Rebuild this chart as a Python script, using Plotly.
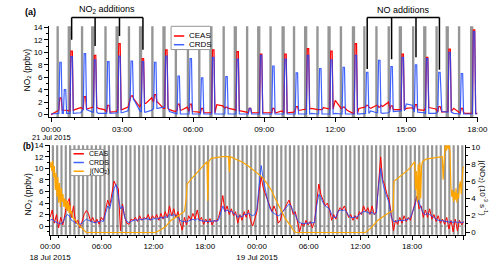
import numpy as np
import plotly.graph_objects as go

FONT = "Liberation Sans, Arial, sans-serif"
RED = "rgb(255,0,0)"
BLUE = "rgba(30,70,255,0.85)"
ORANGE = "rgb(255,165,0)"
GRAY = "rgb(150,150,150)"

# ---------------- Panel (a): 21 Jul 2015 (hours after 00:00) ----------------
a_xticks = [0, 3, 6, 9, 12, 15, 18]
a_xticktext = ["00:00", "03:00", "06:00", "09:00", "12:00", "15:00", "18:00"]
a_date_label = "21 Jul 2015"

a_base_step_h = 0.25
a_ceas_base = [0.0, 0.5, 0.7, 0.6, 0.8, 1.1, 0.9, 1.2,
               1.0, 0.8, 0.4, 0.5, 0.8, 1.2, 2.5, 1.2,
               1.8, 2.7, 2.0, 1.0, 0.8, 0.5, 0.7, 1.2,
               0.5, 0.4, 0.3, 0.3, 1.6, 1.4, 1.0, 0.8,
               0.6, 0.4, 0.3, 0.3, 0.3, 0.2, 0.3, 0.6,
               0.3, 0.4, 0.7, 0.9, 1.0, 0.8, 1.1, 0.9,
               2.3, 1.0, 0.7, 0.2, 1.0, 1.2, 1.0, 1.5,
               1.3, 2.0, 0.8, 0.8, 1.0, 1.1, 0.8, 0.7,
               1.1, 0.9, 0.4, 0.5, 1.0, 0.3, 0.2, 0.2,
               0.2]
a_crds_base = [0.1, 0.1, 0.2, 0.2, 0.2, 0.3, 0.8, 0.4,
               0.2, 0.2, 0.2, 0.2, 0.3, 0.6, 2.4, 0.6,
               0.4, 0.7, 1.0, 1.2, 0.5, 0.2, 0.1, 0.1,
               0.1, 0.1, 0.1, 0.1, 0.1, 0.1, 0.1, 0.1,
               0.1, 0.1, 0.1, 0.1, 0.1, 0.1, 0.1, 0.1,
               0.1, 0.1, 0.1, 0.1, 0.2, 0.1, 0.1, 0.1,
               0.2, 0.1, 0.1, 0.1, 0.1, 0.2, 0.6, 0.3,
               0.2, 0.3, 0.5, 0.6, 1.7, 1.5, 0.4, 0.3,
               0.2, 0.2, 0.5, 0.4, 0.2, 0.1, 0.1, 0.1,
               0.1]

# calibration / addition peaks
a_peak_t = [0.40, 0.59, 0.87, 1.43, 1.86, 2.42, 2.89, 3.41, 3.88, 4.40,
            4.87, 5.39, 5.90, 6.38, 6.85, 7.41, 7.88, 8.40, 8.87, 9.39,
            9.90, 10.38, 10.85, 11.37, 11.84, 12.36, 12.87, 13.35, 13.86, 14.38,
            14.85, 15.41, 15.88, 16.40, 16.83, 17.35, 17.86]
a_peak_crds = [8.4, 4.0, 9.3, 9.8, 8.8, 8.5, 9.4, 8.6, 8.5, 8.4,
               9.4, 6.2, 9.0, 5.9, 9.2, 6.1, 8.9, 1.0, 9.5, 7.8,
               8.9, 6.7, 9.5, 7.4, 8.8, 7.6, 9.5, 6.8, 8.7, 7.7,
               9.2, 8.0, 9.0, 6.8, 10.0, 6.6, 13.3]
a_peak_ceas = [2.7, 0.8, 10.2, 2.9, 9.5, 1.5, 11.4, 3.0, 9.0, 3.2,
               10.4, 1.7, 1.7, 1.0, 10.4, 1.2, 10.1, 1.0, 9.7, 1.0,
               9.7, 1.3, 10.6, 0.8, 10.2, 1.2, 11.4, 1.5, 1.2, 1.4,
               9.7, 1.6, 9.2, 1.3, 10.5, 1.0, 13.6]

# zero periods (grey bars)
a_zero_start = [0.23, 0.70, 1.26, 1.69, 2.25, 2.72, 3.24, 3.71, 4.23, 4.70,
                5.22, 5.73, 6.21, 6.68, 7.24, 7.71, 8.23, 8.70, 9.22, 9.73,
                10.21, 10.68, 11.20, 11.67, 12.19, 12.70, 13.18, 13.69, 14.21, 14.68,
                15.24, 15.71, 16.23, 16.66, 17.18, 17.69]
a_zero_end = [0.33, 0.84, 1.36, 1.83, 2.35, 2.86, 3.34, 3.85, 4.33, 4.84,
              5.32, 5.83, 6.31, 6.82, 7.34, 7.85, 8.33, 8.84, 9.32, 9.87,
              10.31, 10.82, 11.30, 11.81, 12.29, 12.84, 13.28, 13.79, 14.31, 14.82,
              15.34, 15.85, 16.33, 16.80, 17.28, 17.83]

no2_add_t = [0.87, 1.86, 2.89, 3.88]
no2_add_y = [12.0, 11.0, 12.6, 10.4]
no_add_t = [13.35, 14.38, 15.41, 16.40]
no_add_y = [7.3, 8.9, 9.2, 7.2]

# ---------------- Panel (b): 18-19 Jul 2015 (hours after 18 Jul 00:00) ----------------
b_xticks = [0, 6, 12, 18, 24, 30, 36, 42, 48]
b_xticktext = ["00:00<br>18 Jul 2015", "06:00", "12:00", "18:00",
               "00:00<br>19 Jul 2015", "06:00", "12:00", "18:00", ""]
b_t_start_h, b_t_end_h = 0.0, 48.0

b_ceas = [1.5, 2.8, 0.5, 2.0, -0.3, 1.5, 0.2, 2.5,
          4.0, 4.8, 1.5, 3.5, 0.5, 1.0, -0.3, 0.8,
          2.0, 2.7, 2.2, 0.8, 1.5, 0.5, 1.2, 0.3,
          1.5, 1.0, 2.5, 4.5, 3.5, 5.5, 7.8, 7.0,
          6.5, -0.8, 3.8, 1.5, 0.5, 0.3, 1.2, 1.0,
          1.5, 0.8, 1.8, 1.0, 1.5, 1.2, 2.0, 1.0,
          1.8, 1.3, 2.0, 1.0, 2.2, 1.2, 2.5, 1.5,
          3.5, 1.8, 3.0, 1.5, 2.5, 0.5, -0.7, 1.5,
          0.2, 1.8, 1.0, 2.2, 1.2, 2.8, 1.0, 1.5,
          0.3, 1.2, 0.5, 1.3, 0.2, 1.0, 0.8, 1.5,
          3.0, 5.3, 2.5, 3.5, 2.0, 3.0, 1.8, 2.5,
          0.5, 2.0, 1.0, 2.5, 1.5, 2.8, 1.0, 0.0,
          1.5, 2.5, 6.0, 8.5, 6.5, 5.5, 4.5, 3.5,
          2.5, 3.5, 2.5, 0.5, 1.0, 2.5, 3.0, 3.8,
          4.5, 3.5, 2.0, 2.5, 0.5, -1.0, 0.5, 0.0,
          1.0, 0.2, 0.8, -0.3, 0.8, 4.0, 7.3, 5.5,
          4.5, 3.5, 4.0, 3.0, 1.0, 2.0, 1.2, 2.5,
          3.2, 2.8, 3.5, 2.5, 1.5, 2.0, 1.0, 1.8,
          1.2, 2.5, 2.0, 3.5, 2.5, 3.2, 2.0, 3.5,
          2.0, 2.5, 8.0, 12.0, 8.0, 7.0, 5.5, 4.5,
          2.0, -0.8, 1.0, 0.3, 1.5, 0.5, 1.8, 0.8,
          1.5, 1.0, 2.5, 4.0, 5.2, 3.0, 3.5, 1.5,
          2.8, 1.5, 3.0, 1.2, 2.0, 0.8, 1.8, 0.5,
          1.2, 0.3, 1.5, -0.5, 1.0, -1.0, 1.2, -0.8,
          1.0, 0.2, 0.8]
b_crds = [1.0, 1.2, 0.8, 0.6, 0.5, 0.4, 0.6, 1.5,
          2.0, 1.8, 1.0, 0.8, 0.5, 0.4, 0.3, 0.5,
          0.8, 1.2, 1.0, 0.8, 0.7, 0.6, 0.7, 0.8,
          0.9, 0.8, 2.0, 3.5, 3.0, 4.5, 6.5, 7.2,
          5.0, 3.0, 3.5, 1.5, 0.8, 0.6, 0.8, 1.0,
          1.1, 1.0, 1.2, 1.1, 1.2, 1.3, 1.2, 1.1,
          1.2, 1.3, 1.2, 1.3, 1.5, 1.4, 1.6, 1.5,
          2.0, 1.8, 2.0, 1.8, 1.5, 1.0, 0.8, 0.8,
          0.7, 0.9, 1.0, 1.2, 1.0, 1.3, 1.0, 0.9,
          0.8, 0.8, 0.8, 0.8, 0.8, 0.8, 0.9, 1.0,
          2.5, 3.5, 2.5, 2.8, 2.5, 2.6, 2.2, 2.0,
          1.5, 1.8, 1.6, 2.0, 2.0, 2.2, 2.0, 1.8,
          2.0, 3.0, 7.0, 10.5, 8.0, 6.0, 4.5, 3.2,
          2.5, 2.2, 2.0, 1.8, 2.0, 2.5, 3.0, 3.5,
          3.8, 3.5, 2.5, 2.0, 1.0, 0.6, 0.5, 0.4,
          0.5, 0.5, 0.6, 0.5, 0.6, 3.5, 5.5, 5.0,
          4.0, 3.5, 3.2, 3.0, 2.0, 1.5, 1.5, 2.5,
          2.8, 2.7, 2.8, 2.5, 1.8, 1.5, 1.5, 1.5,
          1.6, 2.0, 2.2, 2.5, 2.5, 2.3, 2.2, 2.4,
          2.0, 2.3, 7.0, 10.0, 7.5, 6.0, 5.0, 4.0,
          1.5, 0.8, 0.8, 0.9, 1.0, 0.9, 1.0, 1.0,
          1.2, 1.5, 2.5, 3.5, 5.0, 4.0, 3.0, 2.2,
          2.0, 2.2, 2.0, 1.8, 1.5, 1.2, 1.0, 1.0,
          0.9, 0.8, 0.8, 0.7, 0.8, 0.6, 0.8, 0.6,
          0.7, 0.6, 0.7]

# j(NO2) in 1e-3 s^-1
jno2_t = [0.0, 0.1, 0.2, 0.3, 0.4, 0.5, 0.6, 0.7, 0.8, 0.9,
          1.0, 1.1, 1.2, 1.3, 1.4, 1.5, 1.6, 1.7, 1.8, 1.9,
          2.0, 2.1, 2.2, 2.3, 2.4, 2.5, 2.6, 2.8, 3.0, 3.2,
          3.4, 3.6, 3.8, 4.0, 4.2,
          12.2, 12.8, 13.4, 14.0, 14.8, 15.6, 15.8, 15.9, 16.4, 17.0,
          17.6, 18.1, 18.2, 18.3, 18.4, 18.7, 19.4, 20.0, 20.7, 20.8,
          20.9, 21.7, 22.4, 23.1, 23.9, 24.6, 25.2, 25.7, 26.2, 26.8,
          27.3, 27.9, 28.2, 28.5,
          36.6, 37.3, 38.0, 39.0, 39.8, 39.9, 40.6, 41.6, 42.3, 42.4,
          42.5, 42.6, 42.7, 42.8, 42.9, 43.0, 43.1, 43.2, 43.6, 44.4,
          45.0, 45.5, 45.6, 45.7, 45.8, 45.9, 46.0, 46.1, 46.2, 46.3,
          46.4, 46.5, 46.6, 46.7, 46.8, 46.9, 47.0, 47.1, 47.2, 47.3,
          47.4, 47.5, 47.6, 47.7, 47.8, 47.9, 48.0]
jno2_v = [7.6, 8.3, 7.2, 8.4, 6.5, 7.8, 5.0, 7.0, 4.2, 6.5,
          3.5, 5.8, 3.0, 5.2, 3.6, 4.5, 3.0, 4.0, 2.8, 3.8,
          2.5, 3.6, 2.3, 3.2, 2.2, 2.5, 1.8, 1.6, 1.4, 1.0,
          0.8, 0.5, 0.3, 0.1, 0.0,
          0.0, 0.3, 0.7, 1.4, 1.9, 2.5, 4.0, 5.7, 6.3, 7.0,
          7.6, 8.2, 8.3, 3.7, 8.3, 8.7, 8.8, 8.9, 8.9, 7.1,
          8.9, 8.5, 8.2, 7.7, 7.1, 6.5, 5.7, 4.9, 3.8, 2.6,
          1.6, 0.8, 0.3, 0.0,
          0.0, 0.6, 1.4, 2.1, 2.6, 6.0, 6.6, 7.4, 8.3, 5.0,
          7.2, 3.6, 8.0, 3.8, 8.2, 4.0, 7.8, 8.3, 8.6, 8.7,
          8.8, 8.9, 6.2, 9.3, 9.8, 10.5, 9.6, 10.5, 9.8, 10.4,
          9.5, 5.4, 4.2, 5.0, 3.6, 4.8, 3.8, 5.2, 3.5, 4.6,
          4.0, 5.5, 6.0, 4.5, 6.8, 7.5, 7.7]

b_zero_start = [0.2, 0.7, 1.2, 1.7, 2.2, 2.7, 3.2, 3.7,
                4.2, 4.7, 5.2, 5.7, 6.2, 6.7, 7.2, 7.7,
                8.2, 8.7, 9.2, 9.7, 10.2, 10.7, 11.2, 11.7,
                12.2, 12.7, 13.2, 13.7, 14.2, 14.7, 15.2, 15.7,
                16.2, 16.7, 17.2, 17.7, 18.2, 18.7, 19.2, 19.7,
                20.2, 20.7, 21.2, 21.7, 22.2, 22.7, 23.2, 23.7,
                24.2, 24.7, 25.2, 25.7, 26.2, 26.7, 27.2, 27.7,
                28.2, 28.7, 29.2, 29.7, 30.2, 30.7, 31.2, 31.7,
                32.2, 32.7, 33.2, 33.7, 34.2, 34.7, 35.2, 35.7,
                36.2, 36.7, 37.2, 37.7, 38.2, 38.7, 39.2, 39.7,
                40.2, 40.7, 41.2, 41.7, 42.2, 42.7, 43.2, 43.7,
                44.2, 44.7, 45.2, 45.7, 46.2, 46.7, 47.2, 47.7]
b_zero_len_h = 0.25

# ---------------- build panel (a) series ----------------
def build_series(base, step, pk_t, pk_v, half_in=0.03, half_out=0.07):
    pts = []
    for i, v in enumerate(base):
        t = i * step
        if any(abs(t - p) < half_out for p in pk_t):
            continue
        pts.append((t, v))
    for p, v in zip(pk_t, pk_v):
        b = base[int(round(p / step))]
        pts += [(p - half_out, b), (p - half_in, v), (p + half_in, v), (p + half_out, b)]
    pts.sort()
    return [q[0] for q in pts], [q[1] for q in pts]

a_ceas_t, a_ceas_v = build_series(a_ceas_base, a_base_step_h, a_peak_t, a_peak_ceas)
a_crds_t, a_crds_v = build_series(a_crds_base, a_base_step_h, a_peak_t, a_peak_crds)
b_t = np.linspace(b_t_start_h, b_t_end_h, len(b_ceas))

fig = go.Figure()
fig.add_trace(go.Scatter(x=a_ceas_t, y=a_ceas_v, mode="lines", name="CEAS",
                         line=dict(color=RED, width=1.2), xaxis="x", yaxis="y"))
fig.add_trace(go.Scatter(x=a_crds_t, y=a_crds_v, mode="lines", name="CRDS",
                         line=dict(color=BLUE, width=1.2), xaxis="x", yaxis="y"))
fig.add_trace(go.Scatter(x=b_t, y=b_ceas, mode="lines", name="CEAS",
                         line=dict(color=RED, width=1), xaxis="x2", yaxis="y2"))
fig.add_trace(go.Scatter(x=b_t, y=b_crds, mode="lines", name="CRDS",
                         line=dict(color=BLUE, width=1), xaxis="x2", yaxis="y2"))
fig.add_trace(go.Scatter(x=jno2_t, y=jno2_v, mode="lines", name="j(NO2)",
                         line=dict(color=ORANGE, width=1.2), xaxis="x2", yaxis="y3"))

shapes = []
for s, e in zip(a_zero_start, a_zero_end):
    shapes.append(dict(type="rect", xref="x", yref="y domain", x0=s, x1=e, y0=0, y1=1,
                       fillcolor=GRAY, line=dict(width=0), layer="below"))
for s in b_zero_start:
    shapes.append(dict(type="rect", xref="x2", yref="y2 domain", x0=s, x1=s + b_zero_len_h,
                       y0=0, y1=1, fillcolor=GRAY, line=dict(width=0), layer="below"))
# zero line in (b)
shapes.append(dict(type="line", xref="x2 domain", yref="y2", x0=0, x1=1, y0=0, y1=0,
                   line=dict(color="rgb(110,110,110)", width=1, dash="dot"), layer="below"))

A_YR = [-0.45, 14.17]
BR_DOM = 1.096
def ydom(v):
    return (v - A_YR[0]) / (A_YR[1] - A_YR[0])

for ts, ys in [(no2_add_t, no2_add_y), (no_add_t, no_add_y)]:
    shapes.append(dict(type="line", xref="x", yref="y domain", x0=ts[0], x1=ts[-1],
                       y0=BR_DOM, y1=BR_DOM, line=dict(color="black", width=1.5)))
    for t, y in zip(ts, ys):
        shapes.append(dict(type="line", xref="x", yref="y domain", x0=t, x1=t,
                           y0=ydom(y), y1=BR_DOM, line=dict(color="black", width=1.5)))

# manual legends (paper coords)
def px(x):
    return x / 500.0
def py(y):
    return 1 - y / 262.0

annotations = []
def legend_box(x0, x1, y0, y1, items, fs):
    shapes.append(dict(type="rect", xref="paper", yref="paper", x0=px(x0), x1=px(x1),
                       y0=py(y1), y1=py(y0), fillcolor="white",
                       line=dict(color="rgb(150,150,150)", width=1), layer="above"))
    for (name, color, yy) in items:
        shapes.append(dict(type="line", xref="paper", yref="paper", x0=px(x0 + 3), x1=px(x0 + 14),
                           y0=py(yy), y1=py(yy), line=dict(color=color, width=1.5), layer="above"))
        annotations.append(dict(xref="paper", yref="paper", x=px(x0 + 17), y=py(yy), text=name,
                                showarrow=False, xanchor="left", yanchor="middle",
                                font=dict(size=fs, family=FONT, color="black")))

legend_box(160, 202, 23, 47, [("CEAS", RED, 33), ("CRDS", BLUE, 42)], 8)
legend_box(53, 88, 150, 177, [("CEAS", RED, 154.5), ("CRDS", BLUE, 163.5),
                              ("j(NO<sub>2</sub>)", ORANGE, 172.5)], 7)

annotations += [
    dict(xref="paper", yref="paper", x=px(2), y=py(8.5), text="<b>(a)</b>", showarrow=False,
         xanchor="left", yanchor="middle", font=dict(size=9, family=FONT)),
    dict(xref="paper", yref="paper", x=px(0.5), y=py(146.5), text="<b>(b)</b>", showarrow=False,
         xanchor="left", yanchor="middle", font=dict(size=8.5, family=FONT)),
    dict(xref="paper", yref="paper", x=px(7), y=py(68), text="NO<sub>2</sub> (ppbv)",
         showarrow=False, textangle=-90, xanchor="center", yanchor="middle",
         font=dict(size=8.5, family=FONT)),
    dict(xref="paper", yref="paper", x=px(7), y=py(196), text="NO<sub>2</sub> (ppbv)",
         showarrow=False, textangle=-90, xanchor="center", yanchor="middle",
         font=dict(size=8.5, family=FONT)),
    dict(xref="paper", yref="paper", x=px(493), y=py(190),
         text="j(NO<sub>2</sub>) (10<sup>-3</sup> s<sup>-1</sup>)",
         showarrow=False, textangle=90, xanchor="center", yanchor="middle",
         font=dict(size=8, family=FONT)),
    dict(xref="x", yref="y domain", x=float(np.mean([no2_add_t[0], no2_add_t[-1]])), y=BR_DOM,
         text="NO<sub>2</sub> additions", showarrow=False, yanchor="bottom", yshift=1,
         font=dict(size=9, family=FONT)),
    dict(xref="x", yref="y domain", x=float(np.mean([no_add_t[0], no_add_t[-1]])), y=BR_DOM,
         text="NO additions", showarrow=False, yanchor="bottom", yshift=1,
         font=dict(size=9, family=FONT)),
    dict(xref="x", yref="paper", x=a_xticks[0], y=py(137.5), text=a_date_label,
         showarrow=False, xanchor="center", yanchor="middle", font=dict(size=7.5, family=FONT)),
]

axis_common = dict(showline=True, linecolor="black", linewidth=1, ticks="outside", ticklen=4,
                   tickwidth=1, tickcolor="black", showgrid=False, zeroline=False,
                   tickfont=dict(size=8, family=FONT, color="black"))
minor_common = dict(ticks="outside", ticklen=2, tickcolor="black", tickwidth=1, showgrid=False,
                    tickmode="linear", tick0=0, dtick=1)

fig.update_layout(
    width=500, height=262, margin=dict(l=0, r=0, t=0, b=0),
    paper_bgcolor="white", plot_bgcolor="white", showlegend=False, hovermode=False,
    font=dict(family=FONT, size=8, color="black"),
    xaxis=dict(domain=[px(30), px(487)], range=[-0.08, 18.02], anchor="y",
               tickmode="array", tickvals=a_xticks, ticktext=a_xticktext,
               minor=minor_common, **axis_common),
    yaxis=dict(domain=[py(117), py(23)], range=A_YR, anchor="x",
               tickmode="linear", tick0=0, dtick=2, minor=minor_common, **axis_common),
    xaxis2=dict(domain=[px(31), px(473)], range=[0, 48.1], anchor="y2",
                tickmode="array", tickvals=b_xticks, ticktext=b_xticktext,
                minor=minor_common, **axis_common),
    yaxis2=dict(domain=[py(238), py(145.7)], range=[-1.5, 14.02], anchor="x2",
                tickmode="linear", tick0=0, dtick=2, minor=minor_common, **axis_common),
    yaxis3=dict(range=[-0.26, 10.23], anchor="x2", overlaying="y2", side="right",
                tickmode="linear", tick0=0, dtick=2, minor=minor_common, **axis_common),
    shapes=shapes, annotations=annotations,
)

fig.write_html("out.html", config={"displayModeBar": False, "staticPlot": True},
               post_script="document.body.style.margin='0';document.body.style.padding='0';")
